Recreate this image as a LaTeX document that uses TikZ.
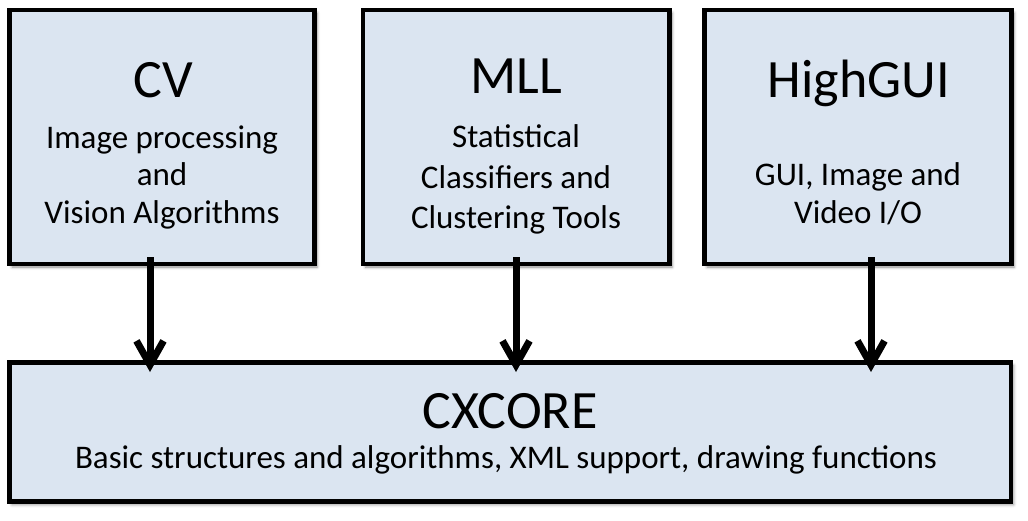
\documentclass[tikz,border=0pt]{standalone}
\usepackage{fontspec}
\setmainfont{Carlito}
\usetikzlibrary{arrows.meta,shadows.blur}
\definecolor{boxfill}{HTML}{DBE5F1}
\tikzset{
  module/.style={draw=black, line width=4.8pt, fill=boxfill, inner sep=0pt,
    blur shadow={shadow xshift=2.5pt, shadow yshift=-3pt, shadow blur radius=3pt, shadow opacity=45}},
  title/.style={anchor=base, inner sep=0pt, font=\fontsize{54}{60}\selectfont},
  body/.style={anchor=base, inner sep=0pt, align=center, font=\fontsize{33}{39}\selectfont},
  dep/.style={line width=7pt, -{Straight Barb[length=24pt, width=27pt, line width=7pt]}}
}
\begin{document}
\begin{tikzpicture}[x=1pt, y=-1pt]
\useasboundingbox (0,0) rectangle (1028,520);
% boxes
\node[module, minimum width=305pt, minimum height=254pt] (cv) at (162,137) {};
\node[module, minimum width=306.5pt, minimum height=254pt] (mll) at (516.25,137) {};
\node[module, minimum width=307pt, minimum height=254pt] (hg) at (858,137) {};
\node[module, minimum width=1001.5pt, minimum height=139pt] (core) at (510.25,432) {};
% texts
\node[title] (cvt) at (163,97) {CV};
\node[body] (cvb1) at (162,148) {Image processing};
\node[body] (cvb2) at (162,185) {and};
\node[body] (cvb3) at (162,223) {Vision Algorithms};
\node[title] (mllt) at (516,93) {MLL};
\node[body] (mllb1) at (516,147) {Statistical};
\node[body] (mllb2) at (516,188) {Classifiers and};
\node[body] (mllb3) at (516,228) {Clustering Tools};
\node[title] (hgt) at (859,97) {HighGUI};
\node[body] (hgb1) at (858,185) {GUI, Image and};
\node[body] (hgb2) at (858,223) {Video I/O};
\node[title] (coret) at (510,428) {CXCORE};
\node[body] (coreb) at (506,468) {Basic structures and algorithms, XML support, drawing functions};
% arrows
\coordinate (a1s) at (150,257); \coordinate (a1e) at (150,372);
\coordinate (a2s) at (516,257); \coordinate (a2e) at (516,372);
\coordinate (a3s) at (871,257); \coordinate (a3e) at (871,372);
\draw[dep] (a1s) -- (a1e);
\draw[dep] (a2s) -- (a2e);
\draw[dep] (a3s) -- (a3e);
\end{tikzpicture}
\end{document}
